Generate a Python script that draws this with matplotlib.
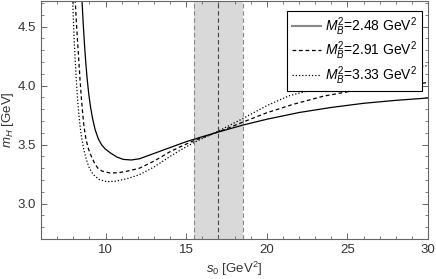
import numpy as np
import matplotlib.pyplot as plt
from matplotlib.ticker import MultipleLocator

plt.rcParams['font.family'] = ['Liberation Sans', 'DejaVu Sans']
plt.rcParams['mathtext.fontset'] = 'custom'
plt.rcParams['mathtext.it'] = 'Liberation Sans:italic'
plt.rcParams['mathtext.rm'] = 'Liberation Sans'

# values
s_a = [8.50, 8.54, 8.62, 8.70, 8.78, 8.86, 8.96, 9.07, 9.20, 9.35, 9.55, 9.75,
       9.97, 10.3, 10.7, 11.1, 11.6, 12.1, 13.0, 14.0, 15.0, 16.0, 17.0, 18.5,
       20.0, 22.0, 24.0, 26.0, 28.0, 30.0]
m_a = [4.85, 4.725, 4.52, 4.34, 4.19, 4.06, 3.93, 3.82, 3.72, 3.63, 3.55, 3.50,
       3.465, 3.43, 3.395, 3.375, 3.37, 3.38, 3.425, 3.475, 3.525, 3.567, 3.607, 3.665,
       3.715, 3.772, 3.815, 3.85, 3.875, 3.895]

s_b = [8.08, 8.12, 8.20, 8.28, 8.35, 8.42, 8.50, 8.58, 8.67, 8.79, 8.95, 9.14,
       9.33, 9.53, 9.80, 10.28, 10.8, 11.4, 12.1, 13.0, 14.0, 14.6, 15.5, 16.3,
       17.0, 18.5, 20.0, 21.6, 23.5, 25.5, 27.5, 30.0]
m_b = [4.85, 4.725, 4.52, 4.35, 4.20, 4.05, 3.90, 3.77, 3.65, 3.545, 3.46, 3.395,
       3.34, 3.30, 3.275, 3.26, 3.262, 3.277, 3.30, 3.36, 3.44, 3.48, 3.535, 3.575,
       3.607, 3.69, 3.77, 3.84, 3.91, 3.96, 3.995, 4.025]

s_c = [7.93, 7.96, 8.01, 8.06, 8.12, 8.18, 8.25, 8.33, 8.42, 8.52, 8.65, 8.82,
       9.00, 9.25, 9.60, 10.07, 10.6, 11.3, 12.1, 13.0, 14.0, 14.6, 15.5, 16.3,
       17.0, 18.5, 20.0, 21.4, 23.0, 25.0, 27.0, 28.5, 30.0]
m_c = [4.85, 4.725, 4.55, 4.38, 4.22, 4.07, 3.92, 3.78, 3.66, 3.56, 3.46, 3.37,
       3.30, 3.245, 3.205, 3.186, 3.19, 3.21, 3.245, 3.31, 3.40, 3.45, 3.52, 3.57,
       3.615, 3.72, 3.83, 3.915, 3.97, 4.035, 4.095, 4.14, 4.17]

labels = ['$M_B^2$=2.48 GeV$^2$', '$M_B^2$=2.91 GeV$^2$', '$M_B^2$=3.33 GeV$^2$']
band = (15.5, 17.0, 18.5)

fig = plt.figure(figsize=(4.36, 2.79), dpi=100)
ax = fig.add_axes([0.094, 0.143, 0.888, 0.855])

ax.axvspan(band[0], band[2], color='#d9d9d9', lw=0, zorder=0)
ax.axvline(band[0], color='#888888', ls=(0, (4, 2.5)), lw=0.8, zorder=1)
ax.axvline(band[2], color='#888888', ls=(0, (4, 2.5)), lw=0.8, zorder=1)
ax.axvline(band[1], color='#444444', ls=(0, (4, 2.5)), lw=0.8, zorder=1)

ax.plot(s_a, m_a, color='black', lw=0.9, label=labels[0])
ax.plot(s_b, m_b, color='black', lw=0.9, ls=(0, (3, 2.2)), label=labels[1])
ax.plot(s_c, m_c, color='black', lw=0.9, ls=(0, (1, 1.6)), label=labels[2])

ax.set_xlim(6, 30)
ax.set_ylim(2.7, 4.72)
ax.xaxis.set_major_locator(MultipleLocator(5))
ax.xaxis.set_minor_locator(MultipleLocator(1))
ax.yaxis.set_major_locator(MultipleLocator(0.5))
ax.yaxis.set_minor_locator(MultipleLocator(0.1))
ax.yaxis.set_major_formatter(plt.FormatStrFormatter('%.1f'))
ax.tick_params(which='both', direction='in', top=True, right=True,
               color='#666666', labelcolor='#333333', labelsize=9.5)
ax.tick_params(which='major', length=4, width=0.7)
ax.tick_params(which='minor', length=2.2, width=0.6)
for sp in ax.spines.values():
    sp.set_color('#666666')
    sp.set_linewidth(0.8)

ax.set_xlabel('$s_0$ [GeV$^2$]', fontsize=9.5, color='#333333', labelpad=3)
ax.set_ylabel('$m_H$ [GeV]', fontsize=9.5, color='#333333', labelpad=1)

leg = ax.legend(loc='upper right', bbox_to_anchor=(0.984, 0.958), fontsize=10,
                borderaxespad=0, fancybox=False, framealpha=1, edgecolor='black',
                handlelength=2.1, borderpad=0.35, labelspacing=0.12,
                handletextpad=0.25)
leg.get_frame().set_linewidth(0.8)
leg.legend_handles[0].set_color('#888888')
leg.legend_handles[0].set_linewidth(1.5)

fig.savefig('out.png', dpi=100)
